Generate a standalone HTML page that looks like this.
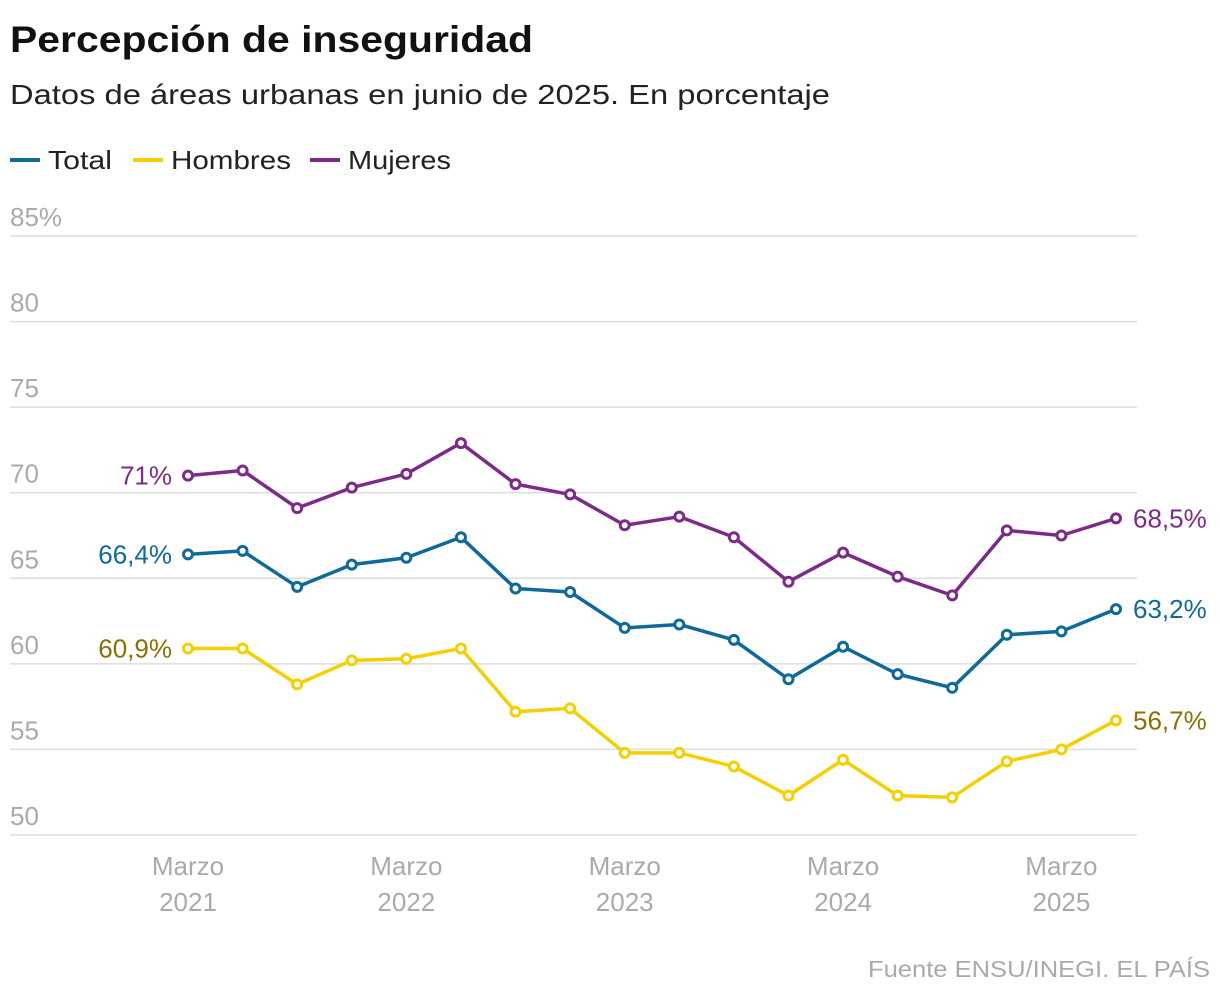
<!DOCTYPE html>
<html><head><meta charset="utf-8"><style>
body{margin:0;background:#fff;font-family:"Liberation Sans",sans-serif;}
svg text{font-family:"Liberation Sans",sans-serif;}
</style></head><body>
<svg width="1220" height="998" xmlns="http://www.w3.org/2000/svg">
<text x="10" y="52" font-size="37" font-weight="bold" fill="#111" textLength="523" lengthAdjust="spacingAndGlyphs">Percepción de inseguridad</text>
<text x="10" y="104" font-size="28" fill="#222" textLength="820" lengthAdjust="spacingAndGlyphs">Datos de áreas urbanas en junio de 2025. En porcentaje</text>
<g id="legend"></g>
<g id="grid"></g><g id="xax"></g><g id="series"></g>
<text x="1210" y="977" font-size="23" fill="#aaa" text-anchor="end" textLength="342" lengthAdjust="spacingAndGlyphs">Fuente ENSU/INEGI. EL PAÍS</text>
</svg>
<script>
const yTicks=[50,55,60,65,70,75,80,85];
const xLabelYears=["2021","2022","2023","2024","2025"];
const total=[66.4,66.6,64.5,65.8,66.2,67.4,64.4,64.2,62.1,62.3,61.4,59.1,61.0,59.4,58.6,61.7,61.9,63.2];
const hombres=[60.9,60.9,58.8,60.2,60.3,60.9,57.2,57.4,54.8,54.8,54.0,52.3,54.4,52.3,52.2,54.3,55.0,56.7];
const mujeres=[71.0,71.3,69.1,70.3,71.1,72.9,70.5,69.9,68.1,68.6,67.4,64.8,66.5,65.1,64.0,67.8,67.5,68.5];
const NS="http://www.w3.org/2000/svg";
const y=v=>835-(v-50)*(599/35);
const x=i=>188+i*(928/17);
function mk(t,a,p){const e=document.createElementNS(NS,t);for(const k in a)e.setAttribute(k,a[k]);p.appendChild(e);return e;}
const grid=document.getElementById('grid');
yTicks.forEach((v,i)=>{
 const l=mk('line',{x1:10,x2:1137,y1:y(v),y2:y(v),stroke:'#ddd','stroke-width':1.5},grid);
 
 
 const t=mk('text',{x:10,y:y(v)-10,'font-size':26,fill:'#aaa'},grid);
 t.textContent=v+(i==yTicks.length-1?'%':'');
 
 
});
const xax=document.getElementById('xax');
xLabelYears.forEach((yr,k)=>{
 const t=mk('text',{x:x(k*4),y:875,'font-size':26,fill:'#aaa','text-anchor':'middle'},xax);
 t.textContent='Marzo';
 
 
 const t2=mk('text',{x:x(k*4),y:911,'font-size':26,fill:'#aaa','text-anchor':'middle'},xax);
 t2.textContent=yr;
 
 
});
const ser=[["Total",total,"#0e6a9a","#0e6a9a"],["Hombres",hombres,"#f5cf00","#8c7100"],["Mujeres",mujeres,"#7d2a8a","#7d2a8a"]];
const sg=document.getElementById('series');
const fmt=v=>{const s=v.toFixed(1).replace('.',',');return s.endsWith(',0')?s.slice(0,-2)+'%':s+'%';};
ser.forEach(([name,d,c,tc])=>{
 const g=mk('g',{},sg);
 
 
 mk('polyline',{points:d.map((v,i)=>x(i)+','+y(v)).join(' '),fill:'none',stroke:c,'stroke-width':3.5,'stroke-linejoin':'round'},g);
 d.forEach((v,i)=>{
  const p=mk('circle',{cx:x(i),cy:y(v),r:4.5,fill:'#fff',stroke:c,'stroke-width':3},g);
  
  
 });
 const a=mk('text',{x:x(0)-16,y:y(d[0])+9,'font-size':26,fill:tc,'text-anchor':'end'},g);
 a.textContent=fmt(d[0]);
 
 
 const b=mk('text',{x:x(d.length-1)+17,y:y(d[d.length-1])+9,'font-size':26,fill:tc},g);
 b.textContent=fmt(d[d.length-1]);
 
 
});
const lg=document.getElementById('legend');
const legX=[10,133,310];
const legW=[64,120,103];
ser.forEach(([name,d,c],k)=>{
 const g=mk('g',{},lg);
 
 
 const lx=legX[k];
 mk('line',{x1:lx,x2:lx+30,y1:160,y2:160,stroke:c,'stroke-width':4},g);
 const t=mk('text',{x:lx+38,y:169,'font-size':26,fill:'#222',textLength:legW[k],lengthAdjust:'spacingAndGlyphs'},g);
 t.textContent=name;
});
</script>
</body></html>
